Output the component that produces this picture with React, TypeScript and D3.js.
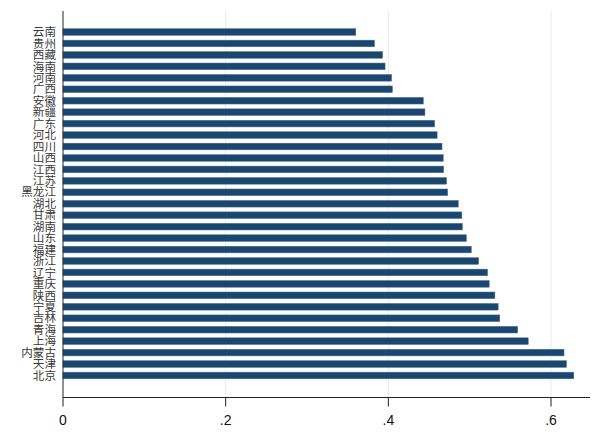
import { useMemo } from 'react';
import * as d3 from 'd3';

const provinces = [
  '云南', '贵州', '西藏', '海南', '河南', '广西', '安徽', '新疆', '广东', '河北',
  '四川', '山西', '江西', '江苏', '黑龙江', '湖北', '甘肃', '湖南', '山东', '福建',
  '浙江', '辽宁', '重庆', '陕西', '宁夏', '吉林', '青海', '上海', '内蒙古', '天津', '北京',
];
const values = [
  0.360, 0.383, 0.393, 0.396, 0.404, 0.405, 0.443, 0.445, 0.457, 0.460,
  0.466, 0.4675, 0.468, 0.4716, 0.473, 0.486, 0.4904, 0.491, 0.496, 0.502,
  0.511, 0.522, 0.524, 0.531, 0.535, 0.537, 0.559, 0.572, 0.616, 0.619, 0.628,
];
const xTicks = [0, 0.2, 0.4, 0.6];
const xTickLabels = ['0', '.2', '.4', '.6'];

const W = 600;
const H = 438;
const NAVY = '#1a476f';

export default function App() {
  const { x, y } = useMemo(() => {
    const x = d3.scaleLinear().domain([0, 0.6]).range([63, 551]);
    const y = d3
      .scaleBand<string>()
      .domain(provinces)
      .range([26.3, 381.2])
      .paddingInner(0.42)
      .paddingOuter(0.21);
    return { x, y };
  }, []);

  const axisY = 397.5;
  const x0 = x(0);

  return (
    <svg width={W} height={H} style={{ position: 'absolute', left: 0, top: 0, background: '#fff' }}>
      {/* vertical grid */}
      {xTicks.slice(1).map((t) => (
        <line key={t} x1={x(t)} x2={x(t)} y1={11} y2={axisY} stroke="#e3ecef" strokeWidth={1} />
      ))}

      {/* bars */}
      {provinces.map((p, i) => (
        <rect
          key={p}
          x={x0}
          y={y(p)}
          width={x(values[i]) - x0}
          height={y.bandwidth()}
          fill={NAVY}
          stroke="#4d6f8f"
          strokeWidth={0.5}
        />
      ))}

      {/* y labels */}
      {provinces.map((p) => (
        <text
          key={p}
          x={56}
          y={(y(p) ?? 0) + y.bandwidth() / 2}
          dy="0.36em"
          textAnchor="end"
          fontFamily="'Noto Sans CJK SC', sans-serif"
          fontSize={11.6}
          fill="#3a3a3a"
        >
          {p}
        </text>
      ))}

      {/* axes */}
      <line x1={x0} x2={x0} y1={11} y2={axisY} stroke="#222" strokeWidth={1} />
      <line x1={x0} x2={590} y1={axisY} y2={axisY} stroke="#222" strokeWidth={1} />
      {xTicks.map((t, i) => (
        <g key={t} transform={`translate(${x(t)},0)`}>
          <line y1={axisY} y2={axisY + 9} stroke="#222" strokeWidth={1} />
          <text
            y={425}
            textAnchor="middle"
            fontFamily="'Liberation Sans', Arial, sans-serif"
            fontSize={14}
            fill="#111"
          >
            {xTickLabels[i]}
          </text>
        </g>
      ))}
    </svg>
  );
}
